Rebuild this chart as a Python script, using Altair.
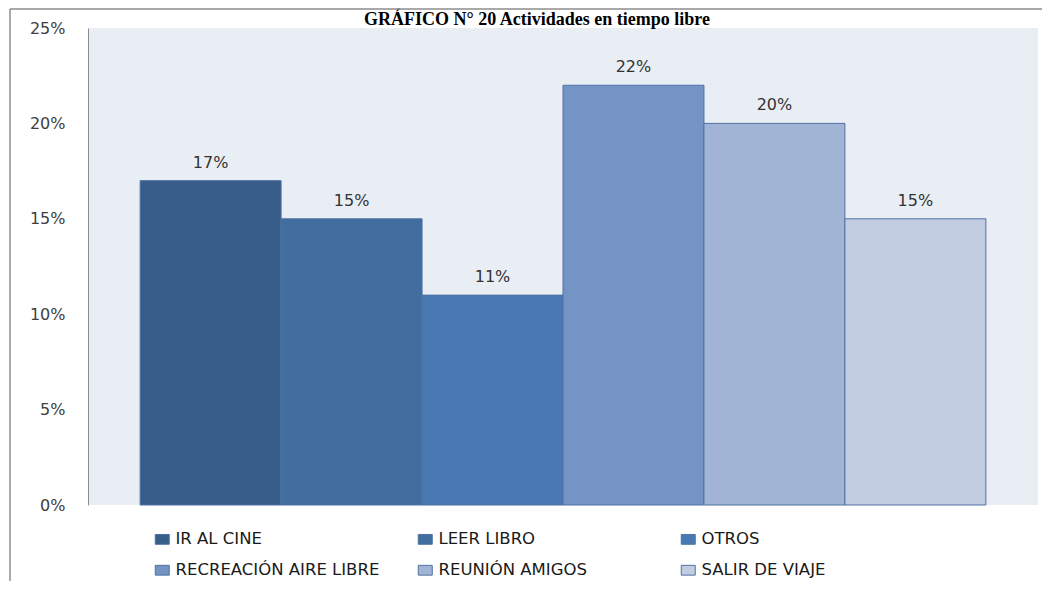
import altair as alt
import pandas as pd

categories = ["IR AL CINE", "LEER LIBRO", "OTROS", "RECREACIÓN AIRE LIBRE", "REUNIÓN AMIGOS", "SALIR DE VIAJE"]
values = [0.17, 0.15, 0.11, 0.22, 0.20, 0.15]
colors = ["#375D89", "#416D9F", "#4879B3", "#7394C5", "#A1B4D5", "#C1CCE0"]
y_ticks = [0, 0.05, 0.10, 0.15, 0.20, 0.25]
title_text = "GRÁFICO N° 20 Actividades en tiempo libre"

df = pd.DataFrame({"cat": categories, "val": values})

xenc = alt.X("cat:N", sort=categories, axis=None,
             scale=alt.Scale(paddingInner=0, paddingOuter=0.37))
yenc = alt.Y("val:Q", scale=alt.Scale(domain=[0, 0.25], nice=False),
             axis=alt.Axis(values=y_ticks, format=".0%", title=None, grid=False,
                           ticks=False, domain=True, domainColor="#8C8C8C", domainWidth=1,
                           labelFont="DejaVu Sans", labelFontSize=16, labelColor="#404040",
                           labelPadding=23))

bars = alt.Chart(df).mark_bar(stroke="#4F72A3", strokeWidth=1).encode(
    x=xenc,
    y=yenc,
    color=alt.Color("cat:N", sort=categories,
                    scale=alt.Scale(domain=categories, range=colors),
                    legend=alt.Legend(title=None, orient="none", legendX=66, legendY=503,
                                      direction="horizontal", columns=3, gridAlign="all",
                                      columnPadding=36, rowPadding=14,
                                      symbolType="M-1,-0.7H1V0.7H-1Z", symbolSize=196,
                                      symbolStrokeColor="#4F72A3", symbolStrokeWidth=1,
                                      symbolOpacity=1, labelOffset=5,
                                      labelFont="DejaVu Sans", labelFontSize=16.5,
                                      labelColor="#1A1A1A", labelLimit=400)),
)

labels = alt.Chart(df).mark_text(dy=-18, baseline="middle", font="DejaVu Sans",
                                 fontSize=16, color="#333333").encode(
    x=alt.X("cat:N", sort=categories),
    y="val:Q",
    text=alt.Text("val:Q", format=".0%"),
)

title_df = pd.DataFrame({"t": [title_text]})
title = alt.Chart(title_df).mark_text(font="Liberation Serif", fontWeight="bold",
                                      fontSize=18, color="#000000", align="center",
                                      baseline="alphabetic").encode(
    x=alt.value(449), y=alt.value(-3), text="t:N")

frame_df = pd.DataFrame({"k": [0]})
frame_top = alt.Chart(frame_df).mark_rule(color="#8C8C8C", strokeWidth=1.5).encode(
    x=alt.value(-78), x2=alt.value(960), y=alt.value(-19))
frame_left = alt.Chart(frame_df).mark_rule(color="#8C8C8C", strokeWidth=1.5).encode(
    x=alt.value(-78), y=alt.value(-19), y2=alt.value(560))

chart = alt.layer(bars, labels, title, frame_top, frame_left).properties(
    width=950, height=477,
    padding={"left": 80, "top": 20, "right": 4, "bottom": 76},
    autosize=alt.AutoSizeParams(type="none"),
    background="#FFFFFF",
).configure_view(fill="#E9EDF4", strokeWidth=0)

chart.save("out.html", embed_options={"renderer": "svg", "actions": False})
